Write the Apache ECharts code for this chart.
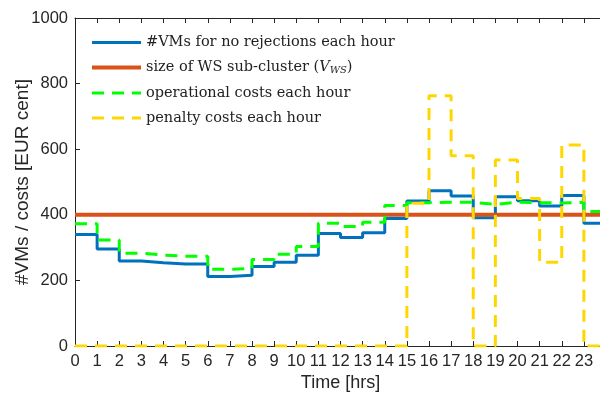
<!DOCTYPE html>
<html>
<head>
<meta charset="utf-8">
<script src="https://cdn.jsdelivr.net/npm/echarts@6/dist/echarts.min.js"></script>
<style>html,body{margin:0;padding:0;background:#fff}#c{width:600px;height:396px}</style>
</head>
<body>
<div id="c"></div>
<script>
var hours = [0,1,2,3,4,5,6,7,8,9,10,11,12,13,14,15,16,17,18,19,20,21,22,23];
var xTickLabels = ['0','1','2','3','4','5','6','7','8','9','10','11','12','13','14','15','16','17','18','19','20','21','22','23'];
var yTickLabels = ['0','200','400','600','800','1000'];
var vmsNoRejections = [340,296,259,254,250,250,212,216,242,255,277,343,331,345,389,442,473,457,391,455,443,427,459,374];
var wsSubClusterSize = [400,400,400,400,400,400,400,400,400,400,400,400,400,400,400,400,400,400,400,400,400,400,400,400];
var operationalCosts = [373,323,283,277,274,274,234,236,264,280,303,374,364,377,428,437,438,438,432,438,437,436,438,410];
var penaltyCosts = [0,0,0,0,0,0,0,0,0,0,0,0,0,0,0,435,763,580,0,567,450,255,613,0];
var seriesNames = ['#VMs for no rejections each hour','size of WS sub-cluster (V_WS)','operational costs each hour','penalty costs each hour'];

function stairs(vals){
  var d = hours.map(function(h,i){return [h, vals[i]];});
  d.push([hours[hours.length-1]+1, vals[vals.length-1]]);
  return d;
}

var chart = echarts.init(document.getElementById('c'), null, {renderer:'canvas'});
var axisColor = '#262626';
var tickFont = 'Liberation Sans';
chart.setOption({
  animation: false,
  grid: {left: 75, top: 18, bottom: 50, width: 531, containLabel: false, outerBoundsMode: 'none'},
  legend: {
    left: 85, top: 30, orient: 'vertical', itemWidth: 49, itemHeight: 14, itemGap: 10,
    itemStyle: {opacity: 0},
    lineStyle: {width: 'inherit', type: 'inherit'},
    textStyle: {fontFamily: 'DejaVu Serif', fontSize: 14.5, color: '#222',
      rich: {
        t: {fontFamily: 'DejaVu Serif', fontSize: 14.5, color: '#222'},
        i: {fontFamily: 'DejaVu Serif', fontStyle: 'italic', fontSize: 14.5, color: '#222'},
        s: {fontFamily: 'DejaVu Serif', fontStyle: 'italic', fontSize: 10, color: '#222', padding: [6,0,0,0]}
      }
    },
    formatter: function(n){
      if (n === seriesNames[1]) return '{t|size of WS sub-cluster (}{i|V}{s|WS}{t|)}';
      return n;
    },
    data: seriesNames
  },
  xAxis: [{
    type: 'value', min: 0, max: 24, interval: 1, position: 'bottom',
    name: 'Time [hrs]', nameLocation: 'middle', nameGap: 28, nameMoveOverlap: false,
    nameTextStyle: {fontFamily: tickFont, fontSize: 18, color: axisColor},
    axisLine: {show: true, lineStyle: {color: axisColor, width: 1}},
    axisTick: {show: true, inside: true, length: 5, lineStyle: {color: axisColor}},
    axisLabel: {fontFamily: tickFont, fontSize: 16.5, color: axisColor, margin: 7,
      formatter: function(v){ return v < xTickLabels.length ? xTickLabels[v] : ''; }},
    splitLine: {show: false}
  },{
    type: 'value', min: 0, max: 24, interval: 1, position: 'top',
    axisLine: {show: true, onZero: false, lineStyle: {color: axisColor, width: 1}},
    axisTick: {show: true, inside: true, length: 5, lineStyle: {color: axisColor}},
    axisLabel: {show: false}, splitLine: {show: false}
  }],
  yAxis: {
    type: 'value', min: 0, max: 1000, interval: 200,
    name: '#VMs / costs [EUR cent]', nameLocation: 'middle', nameGap: 43, nameRotate: 90, nameMoveOverlap: false,
    nameTextStyle: {fontFamily: tickFont, fontSize: 19, color: axisColor},
    axisLine: {show: true, lineStyle: {color: axisColor, width: 1}},
    axisTick: {show: true, inside: true, length: 5, lineStyle: {color: axisColor}},
    axisLabel: {fontFamily: tickFont, fontSize: 16.5, color: axisColor, margin: 7,
      formatter: function(v){ return yTickLabels[v/200]; }},
    splitLine: {show: false}
  },
  series: [
    {name: seriesNames[0], type: 'line', step: 'end', symbol: 'none', data: stairs(vmsNoRejections),
     lineStyle: {color: '#0072BD', width: 3}, itemStyle: {color: '#0072BD'}, z: 2},
    {name: seriesNames[1], type: 'line', step: 'end', symbol: 'none', data: stairs(wsSubClusterSize),
     lineStyle: {color: '#D95319', width: 4}, itemStyle: {color: '#D95319'}, z: 3},
    {name: seriesNames[2], type: 'line', step: 'end', symbol: 'none', data: stairs(operationalCosts),
     lineStyle: {color: '#00FF00', width: 3, type: [12, 8]}, itemStyle: {color: '#00FF00'}, z: 4},
    {name: seriesNames[3], type: 'line', step: 'end', symbol: 'none', data: stairs(penaltyCosts),
     lineStyle: {color: '#FFD700', width: 3, type: [12, 8]}, itemStyle: {color: '#FFD700'}, z: 5}
  ]
});
</script>
</body>
</html>
